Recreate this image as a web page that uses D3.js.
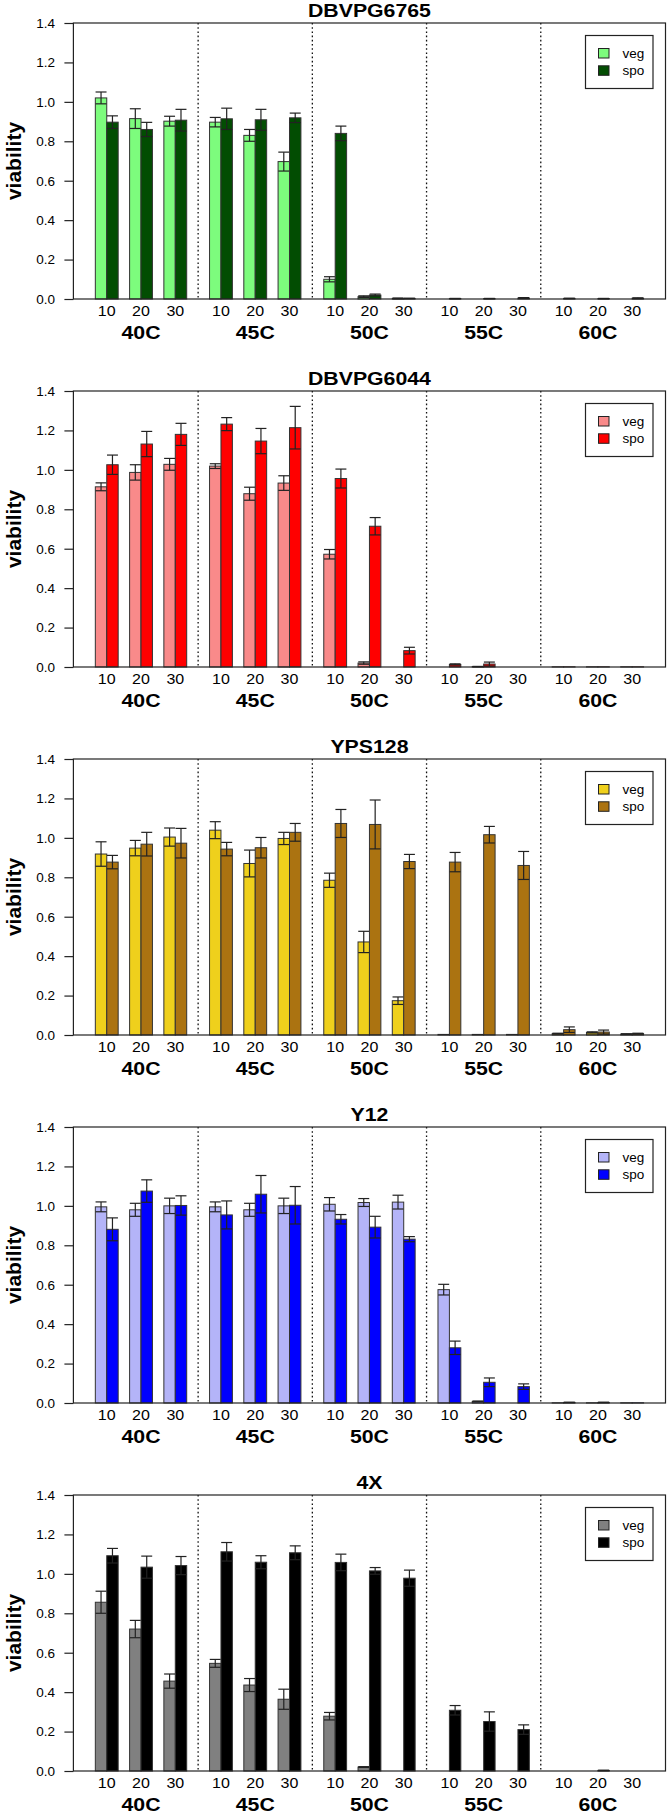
<!DOCTYPE html>
<html><head><meta charset="utf-8">
<script src="https://cdn.jsdelivr.net/npm/d3@7"></script>
<style>
html,body{margin:0;padding:0;background:#fff;}
text{font-family:"Liberation Sans",Arial,Helvetica,sans-serif;fill:#000;}
</style></head>
<body>
<svg id="chart" width="668" height="1814"></svg>
<script>
// ---------- data ----------
const temps = ["40C","45C","50C","55C","60C"];
const times = ["10","20","30"];
const yTicks = [0,0.2,0.4,0.6,0.8,1.0,1.2,1.4];
const seriesNames = ["veg","spo"];
const strains = ["DBVPG6765","DBVPG6044","YPS128","Y12","4X"];

const veg6765 = [1.02,0.915,0.902,0.897,0.830,0.697,0.100,0.012,0.003,0.0,0.0,0.0,0.0,0.0,0.0];
const vegErr6765 = [0.030,0.050,0.025,0.024,0.030,0.048,0.013,0.004,0.002,0,0,0,0,0,0];
const spo6765 = [0.897,0.860,0.907,0.914,0.909,0.919,0.840,0.020,0.003,0.002,0.002,0.005,0.003,0.002,0.004];
const spoErr6765 = [0.032,0.036,0.055,0.054,0.053,0.024,0.037,0.005,0.001,0.001,0.001,0.002,0.001,0.001,0.002];

const veg6044 = [0.914,0.987,1.028,1.019,0.879,0.933,0.572,0.020,0.0,0.0,0.002,0.0,0.001,0.001,0.001];
const vegErr6044 = [0.020,0.039,0.030,0.012,0.033,0.037,0.024,0.006,0,0,0.001,0,0,0,0];
const spo6044 = [1.026,1.131,1.180,1.232,1.146,1.214,0.956,0.714,0.083,0.013,0.015,0.0,0.001,0.001,0.001];
const spoErr6044 = [0.049,0.064,0.056,0.033,0.064,0.108,0.048,0.044,0.017,0.003,0.010,0,0,0,0];

const vegYPS = [0.918,0.948,1.004,1.039,0.870,0.997,0.785,0.472,0.174,0.003,0.003,0.003,0.007,0.013,0.005];
const vegErrYPS = [0.062,0.039,0.046,0.043,0.068,0.031,0.036,0.054,0.019,0,0,0,0.002,0.003,0.001];
const spoYPS = [0.877,0.968,0.973,0.943,0.950,1.028,1.073,1.068,0.880,0.877,1.016,0.860,0.027,0.015,0.007];
const spoErrYPS = [0.034,0.060,0.075,0.034,0.052,0.045,0.071,0.124,0.036,0.049,0.042,0.071,0.014,0.010,0.002];

const vegY12 = [0.995,0.980,1.000,0.995,0.980,1.000,1.008,1.017,1.019,0.575,0.008,0.0,0.001,0.001,0.001];
const vegErrY12 = [0.025,0.033,0.039,0.025,0.033,0.039,0.034,0.020,0.035,0.027,0.002,0,0,0,0];
const spoY12 = [0.881,1.075,1.002,0.954,1.059,1.003,0.932,0.892,0.831,0.280,0.105,0.083,0.003,0.003,0.001];
const spoErrY12 = [0.058,0.057,0.049,0.071,0.095,0.095,0.024,0.055,0.013,0.034,0.022,0.014,0.001,0.001,0];

const veg4X = [0.856,0.720,0.456,0.546,0.436,0.364,0.278,0.020,0,0,0,0,0,0,0];
const vegErr4X = [0.056,0.044,0.036,0.020,0.033,0.051,0.019,0.002,0,0,0,0,0,0,0];
const spo4X = [1.092,1.034,1.042,1.112,1.059,1.107,1.058,1.015,0.978,0.308,0.251,0.210,0,0.003,0];
const spoErr4X = [0.037,0.056,0.046,0.047,0.033,0.035,0.042,0.017,0.041,0.024,0.049,0.024,0,0.001,0];

const vegColors = ["#7dfc7d","#f98a8a","#efd01c","#b4b4f8","#808080"];
const spoColors = ["#024d02","#ff0000","#ab7311","#0000ff","#000000"];

const panels = [
  {name:strains[0], veg:veg6765, vegErr:vegErr6765, spo:spo6765, spoErr:spoErr6765},
  {name:strains[1], veg:veg6044, vegErr:vegErr6044, spo:spo6044, spoErr:spoErr6044},
  {name:strains[2], veg:vegYPS, vegErr:vegErrYPS, spo:spoYPS, spoErr:spoErrYPS},
  {name:strains[3], veg:vegY12, vegErr:vegErrY12, spo:spoY12, spoErr:spoErrY12},
  {name:strains[4], veg:veg4X, vegErr:vegErr4X, spo:spo4X, spoErr:spoErr4X}
];

// ---------- layout ----------
const svg = d3.select("#chart");
const panelH = 368;
const left = 73.4, right = 665.5, top0 = 23, bot0 = 299;
const x = d3.scaleLinear().domain([-0.92, 50.92]).range([left, right]);
const barStart = (ti, si) => 1 + 10*ti + 3*si;
const SX = 1.12; // horizontal text stretch of the reference

function stretchedText(g, cx, cy, str, size, bold) {
  return g.append("text")
    .attr("transform", `translate(${cx},${cy}) scale(${SX},1)`)
    .attr("text-anchor","middle").attr("font-size", size + "px")
    .attr("font-weight", bold ? "bold" : "normal").text(str);
}

panels.forEach((p, pi) => {
  const off = pi*panelH;
  const g = svg.append("g").attr("transform", `translate(0,${off})`);
  const y = d3.scaleLinear().domain([0,1.4]).range([bot0, top0]);

  // dotted separators
  [1,2,3,4].forEach(k => {
    g.append("line").attr("x1", x(10*k)).attr("x2", x(10*k))
      .attr("y1", y(1.4)).attr("y2", y(0))
      .attr("stroke","#111").attr("stroke-width",1.3).attr("stroke-dasharray","1.6,2.6");
  });

  // bars + error bars
  temps.forEach((t, ti) => {
    times.forEach((tm, si) => {
      const idx = ti*3 + si;
      const l = barStart(ti, si);
      [[p.veg, p.vegErr, vegColors[pi], 0],[p.spo, p.spoErr, spoColors[pi], 1]].forEach(([vals, errs, col, k]) => {
        const v = vals[idx], e = errs[idx];
        g.append("rect").attr("x", x(l+k)).attr("width", x(l+k+1)-x(l+k))
          .attr("y", y(v)).attr("height", y(0)-y(v))
          .attr("fill", col).attr("stroke","#333").attr("stroke-width",1);
        if (e > 0) {
          const cx = x(l+k+0.5), hw = x(0.48)-x(0);
          const lo = y(Math.max(0, v-e)), hi = y(v+e);
          const eg = g.append("g").attr("stroke","#222").attr("stroke-width",1.2);
          eg.append("line").attr("x1",cx).attr("x2",cx).attr("y1",lo).attr("y2",hi);
          eg.append("line").attr("x1",cx-hw).attr("x2",cx+hw).attr("y1",hi).attr("y2",hi);
          eg.append("line").attr("x1",cx-hw).attr("x2",cx+hw).attr("y1",lo).attr("y2",lo);
        }
      });
      stretchedText(g, x(l+1), 315.5, tm, 14.3, false);
    });
    stretchedText(g, x(10*ti+5), 338.5, t, 19, true);
  });

  // box
  g.append("rect").attr("x", left).attr("y", top0).attr("width", right-left).attr("height", bot0-top0)
    .attr("fill","none").attr("stroke","#222").attr("stroke-width",1.2);

  // y axis
  const ax = g.append("g").attr("transform", `translate(${left},0)`)
    .call(d3.axisLeft(y).tickValues(yTicks).tickFormat(d3.format(".1f")).tickSize(9).tickPadding(9.4));
  ax.select(".domain").remove();
  ax.selectAll(".tick line").attr("stroke","#222").attr("stroke-width",1.2);
  ax.selectAll(".tick text").attr("font-size","13.5px").attr("font-family","Liberation Sans, Arial, sans-serif").attr("fill","#000");

  // y label
  g.append("text").attr("transform", `translate(20.6,${(top0+bot0)/2}) rotate(-90)`)
    .attr("text-anchor","middle").attr("font-size","21px").attr("font-weight","bold").text("viability");

  // title
  stretchedText(g, (left+right)/2, 16.7, p.name, 19, true);

  // legend
  const lg = g.append("g");
  lg.append("rect").attr("x",585.5).attr("y",35.5).attr("width",67.5).attr("height",53)
    .attr("fill","#fff").attr("stroke","#222").attr("stroke-width",1.2);
  [vegColors[pi], spoColors[pi]].forEach((c, k) => {
    lg.append("rect").attr("x",598.5).attr("y",48.5 + k*17.3).attr("width",10.5).attr("height",9.5)
      .attr("fill",c).attr("stroke","#222").attr("stroke-width",1);
    lg.append("text").attr("x",622.5).attr("y",58 + k*17.3).attr("font-size","13.5px").text(seriesNames[k]);
  });
});
</script>
</body></html>
